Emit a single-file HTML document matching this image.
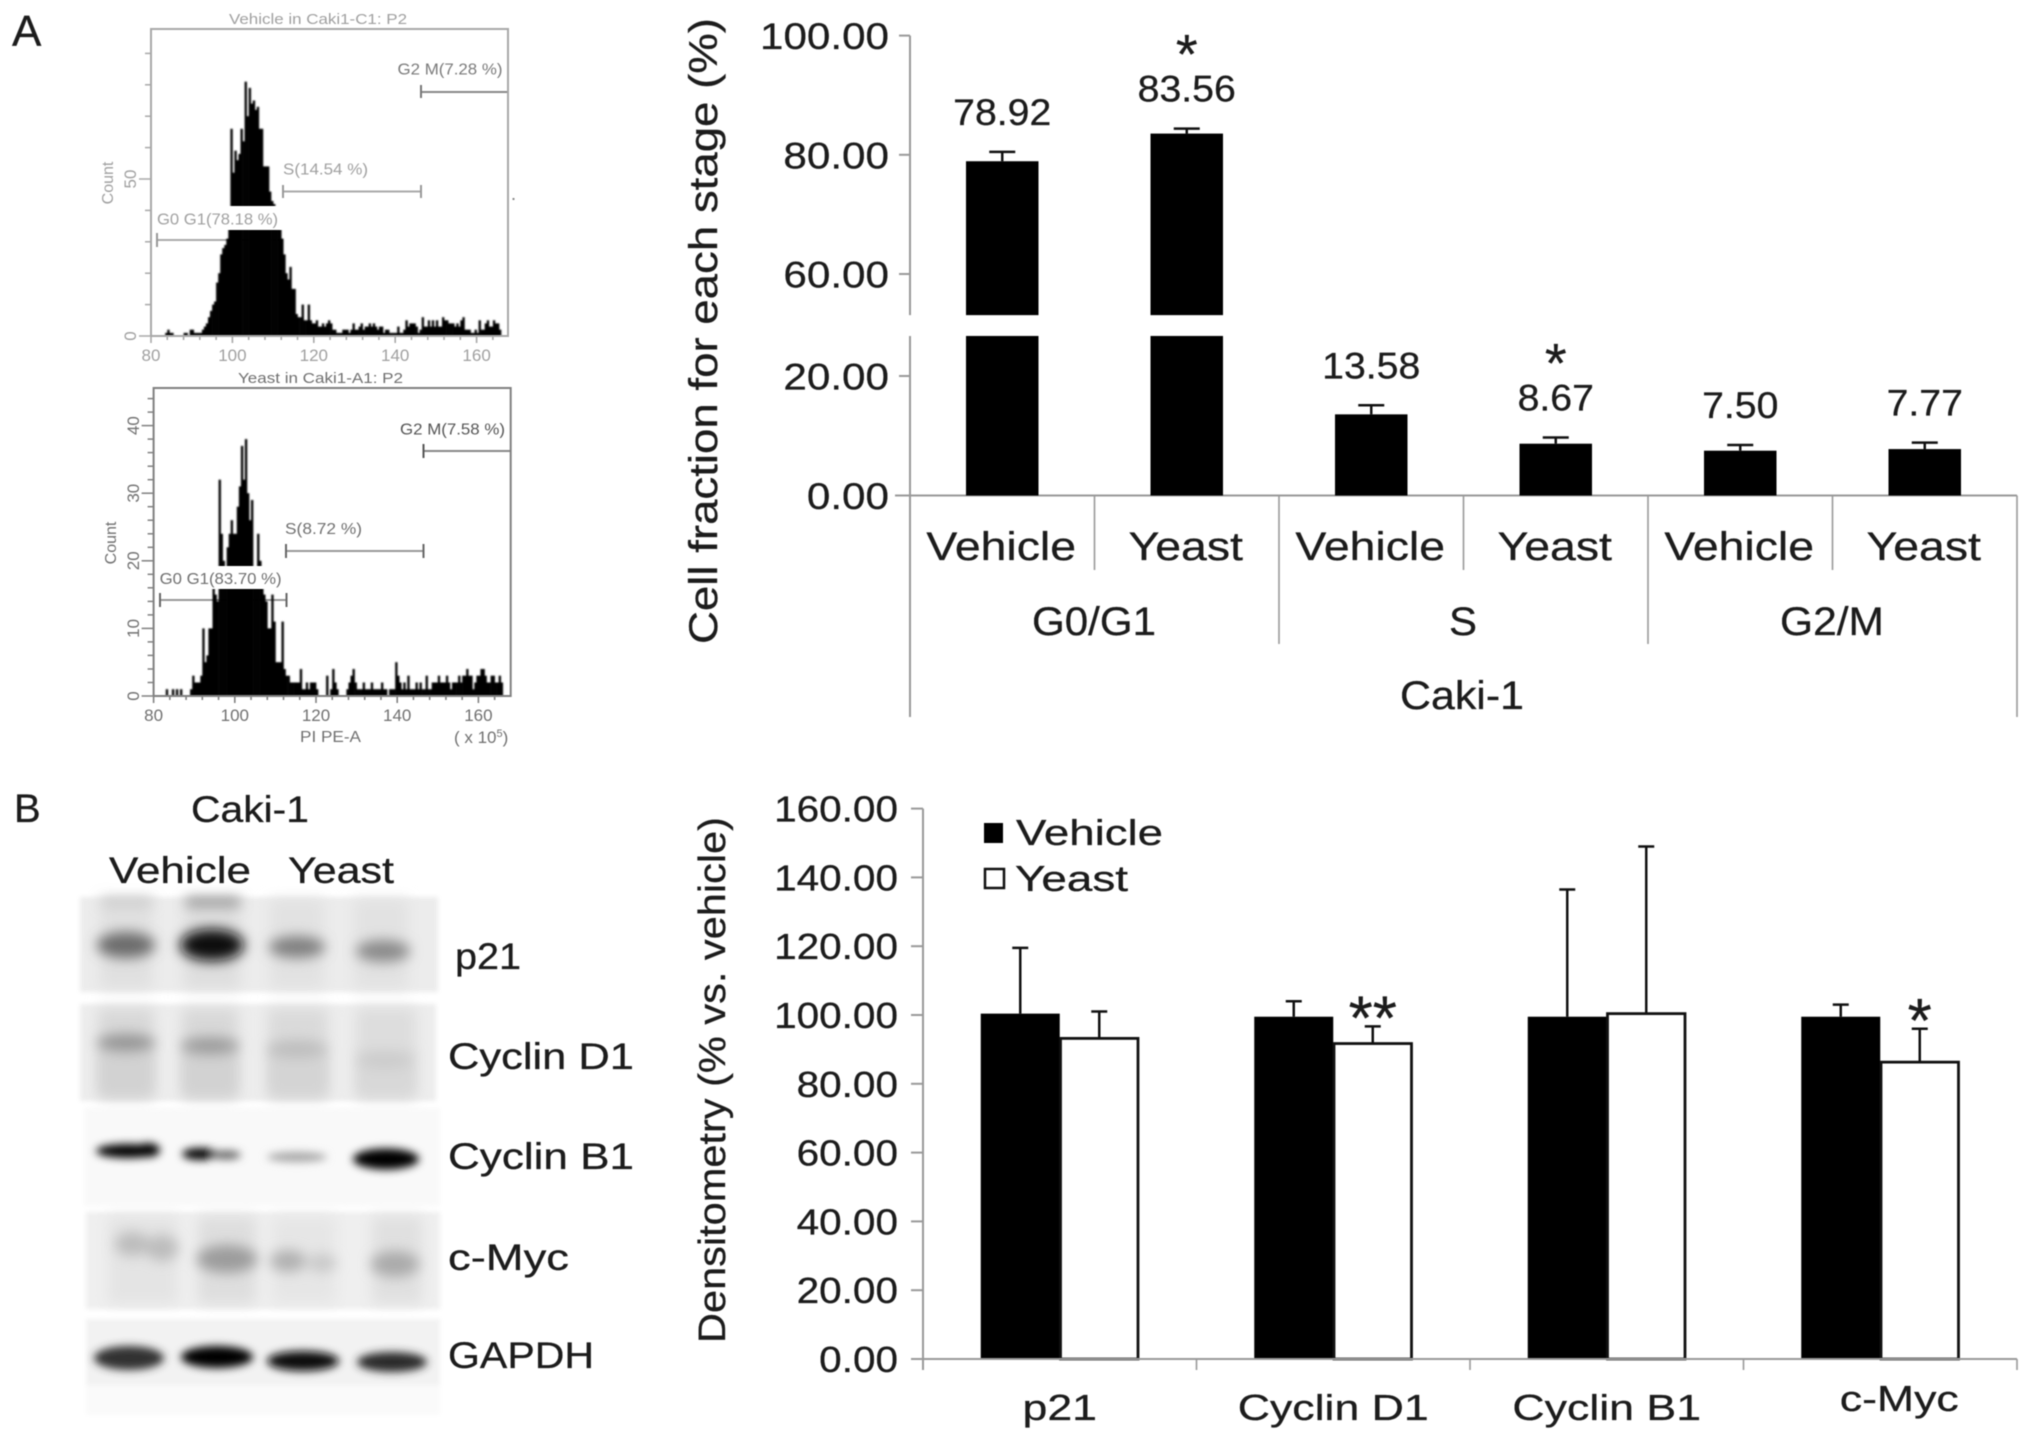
<!DOCTYPE html>
<html lang="en">
<head>
<meta charset="utf-8">
<title>Caki-1 cell cycle and densitometry figure</title>
<style>
html,body{margin:0;padding:0;background:#fff;}
body{width:2031px;height:1440px;overflow:hidden;}
svg{display:block;filter:blur(0.6px);}
text{font-family:"Liberation Sans",sans-serif;fill:#1c1c1c;stroke:#1c1c1c;stroke-width:.3px;}
.flow1{fill:#a0a0a0;stroke:none;}
.flow2{fill:#707070;stroke:none;}
.flowtxt{stroke:none;}
</style>
</head>
<body>
<svg id="fig" xmlns="http://www.w3.org/2000/svg" width="2031" height="1440" viewBox="0 0 2031 1440">
  <defs>
    <filter id="bandBlur" x="-40%" y="-80%" width="180%" height="260%"><feGaussianBlur stdDeviation="6.5"/></filter>
    <filter id="sharpBandBlur" x="-40%" y="-100%" width="180%" height="300%"><feGaussianBlur stdDeviation="4.2"/></filter>
    <filter id="bgBlur" x="-5%" y="-10%" width="110%" height="120%"><feGaussianBlur stdDeviation="2.5"/></filter>
    <filter id="laneBlur" x="-30%" y="-15%" width="160%" height="130%"><feGaussianBlur stdDeviation="7"/></filter>
    <filter id="histBlur" x="-5%" y="-5%" width="110%" height="110%"><feGaussianBlur stdDeviation="0.8"/></filter>
  </defs>
  <rect x="0" y="0" width="2031" height="1440" fill="#fff"/>

  <text x="12" y="46" font-size="44">A</text>
  <text x="14" y="822" font-size="40">B</text>

  <!-- Flow cytometry -->
  <g id="flowTop">
    <text class="flow1" x="229" y="24" font-size="15" textLength="178" lengthAdjust="spacingAndGlyphs">Vehicle in Caki1-C1: P2</text>
    <text class="flow1" transform="translate(113,183) rotate(-90)" text-anchor="middle" font-size="16">Count</text>
    <line x1="157" y1="240" x2="283" y2="240" stroke="#aaa" stroke-width="2"/>
    <line x1="157" y1="233" x2="157" y2="247" stroke="#999" stroke-width="2"/>
    <line x1="283" y1="191.5" x2="421" y2="191.5" stroke="#aaa" stroke-width="2"/>
    <line x1="283" y1="185" x2="283" y2="198" stroke="#999" stroke-width="2"/>
    <line x1="421" y1="185" x2="421" y2="198" stroke="#999" stroke-width="2"/>
    <line x1="421" y1="92" x2="508" y2="92" stroke="#888" stroke-width="2"/>
    <line x1="421" y1="85" x2="421" y2="98" stroke="#777" stroke-width="2"/>
    <text class="flowtxt" x="397.5" y="74.5" font-size="15.5" style="fill:#7a7a7a" textLength="105" lengthAdjust="spacingAndGlyphs">G2 M(7.28 %)</text>
    <text class="flow1" x="283" y="174.5" font-size="15.5" textLength="85" lengthAdjust="spacingAndGlyphs">S(14.54 %)</text>
    <rect x="512.5" y="198" width="2" height="2" fill="#888"/>
  </g>
  <g id="flowBottom">
    <text class="flow2" x="238" y="383" font-size="15" textLength="165" lengthAdjust="spacingAndGlyphs">Yeast in Caki1-A1: P2</text>
    <text class="flow2" transform="translate(116,543) rotate(-90)" text-anchor="middle" font-size="16">Count</text>
    <line x1="160" y1="600" x2="286.5" y2="600" stroke="#999" stroke-width="2"/>
    <line x1="160" y1="593" x2="160" y2="607" stroke="#666" stroke-width="2"/>
    <line x1="286.5" y1="593" x2="286.5" y2="607" stroke="#666" stroke-width="2"/>
    <line x1="286" y1="551" x2="423.5" y2="551" stroke="#999" stroke-width="2"/>
    <line x1="286" y1="544" x2="286" y2="558" stroke="#666" stroke-width="2"/>
    <line x1="423.5" y1="544" x2="423.5" y2="558" stroke="#666" stroke-width="2"/>
    <line x1="423.5" y1="451" x2="510" y2="451" stroke="#888" stroke-width="2"/>
    <line x1="423.5" y1="444" x2="423.5" y2="458" stroke="#555" stroke-width="2"/>
    <text class="flowtxt" x="400" y="434.5" font-size="15.5" style="fill:#555" textLength="105" lengthAdjust="spacingAndGlyphs">G2 M(7.58 %)</text>
    <text class="flow2" x="285" y="534" font-size="15.5" textLength="77" lengthAdjust="spacingAndGlyphs">S(8.72 %)</text>
    <text class="flow2" x="300" y="742" font-size="16" textLength="61" lengthAdjust="spacingAndGlyphs">PI PE-A</text>
    <text class="flow2" x="454" y="743" font-size="17">( x 10<tspan dy="-6" font-size="11">5</tspan><tspan dy="6">)</tspan></text>
  </g>

  <!-- Western blot -->
  <g>
    <g filter="url(#bgBlur)">
      <rect x="80" y="897" width="358" height="95" fill="#ececec"/>
      <rect x="80" y="1004" width="356" height="97" fill="#ededed"/>
      <rect x="84" y="1108" width="356" height="98" fill="#f9f9f9"/>
      <rect x="86" y="1212" width="354" height="97" fill="#efefef"/>
      <rect x="86" y="1319" width="354" height="68" fill="#f2f2f2"/>
      <rect x="86" y="1385" width="354" height="30" fill="#fafafa"/>
    </g>
    <g filter="url(#laneBlur)">
      <rect x="100" y="899" width="52" height="90" fill="#e0e0e0"/>
      <rect x="184" y="899" width="56" height="90" fill="#dedede"/>
      <rect x="270" y="899" width="54" height="90" fill="#e2e2e2"/>
      <rect x="354" y="899" width="54" height="90" fill="#e2e2e2"/>
      <rect x="98" y="1008" width="56" height="90" fill="#d8d8d8"/>
      <rect x="182" y="1008" width="56" height="90" fill="#d8d8d8"/>
      <rect x="268" y="1008" width="60" height="90" fill="#dadada"/>
      <rect x="356" y="1008" width="60" height="90" fill="#dddddd"/>
      <rect x="108" y="1216" width="70" height="88" fill="#e4e4e4"/>
      <rect x="198" y="1216" width="58" height="88" fill="#dedede"/>
      <rect x="272" y="1216" width="64" height="88" fill="#e6e6e6"/>
      <rect x="372" y="1216" width="50" height="88" fill="#e0e0e0"/>
    </g>
    <g filter="url(#bandBlur)">
      <rect x="186" y="898" width="54" height="8" fill="#888"/>
      <rect x="102" y="898" width="50" height="8" fill="#c8c8c8"/>
      <rect x="100" y="1050" width="52" height="45" fill="#d2d2d2"/>
      <rect x="184" y="1050" width="52" height="45" fill="#d2d2d2"/>
      <rect x="270" y="1045" width="56" height="50" fill="#d4d4d4"/>
      <rect x="358" y="1050" width="56" height="45" fill="#d8d8d8"/>
      <ellipse cx="126" cy="945" rx="29" ry="13" fill="#6c6c6c"/>
      <ellipse cx="212" cy="945" rx="32" ry="16" fill="#101010"/>
      <ellipse cx="297" cy="947" rx="28" ry="11" fill="#808080"/>
      <ellipse cx="383" cy="951" rx="27" ry="11" fill="#8a8a8a"/>
      <ellipse cx="126" cy="1043" rx="29" ry="9" fill="#949494"/>
      <ellipse cx="210" cy="1046" rx="29" ry="9" fill="#9c9c9c"/>
      <ellipse cx="297" cy="1049" rx="30" ry="9" fill="#bebebe"/>
      <ellipse cx="385" cy="1060" rx="28" ry="9" fill="#cccccc"/>
      <ellipse cx="132" cy="1244" rx="17" ry="12" fill="#bcbcbc"/>
      <ellipse cx="162" cy="1248" rx="16" ry="13" fill="#bcbcbc"/>
      <ellipse cx="227" cy="1259" rx="30" ry="14" fill="#9c9c9c"/>
      <ellipse cx="288" cy="1261" rx="18" ry="11" fill="#b0b0b0"/>
      <ellipse cx="322" cy="1263" rx="14" ry="9" fill="#c8c8c8"/>
      <ellipse cx="395" cy="1264" rx="24" ry="13" fill="#aaaaaa"/>
    </g>
    <g filter="url(#sharpBandBlur)">
      <ellipse cx="128" cy="1151" rx="32" ry="7" fill="#000"/>
      <ellipse cx="148" cy="1150" rx="12" ry="7" fill="#000"/>
      <ellipse cx="200" cy="1154" rx="18" ry="6" fill="#000"/>
      <ellipse cx="226" cy="1155" rx="15" ry="4.5" fill="#666"/>
      <ellipse cx="297" cy="1157" rx="30" ry="5" fill="#a6a6a6"/>
      <ellipse cx="386" cy="1159" rx="33" ry="10.5" fill="#000"/>
      <ellipse cx="129" cy="1358" rx="35" ry="12" fill="#303030"/>
      <ellipse cx="217" cy="1357" rx="36" ry="11" fill="#000"/>
      <ellipse cx="303" cy="1361" rx="36" ry="10" fill="#0a0a0a"/>
      <ellipse cx="392" cy="1362" rx="35" ry="10" fill="#2c2c2c"/>
    </g>
    <text x="191" y="822" font-size="37" textLength="118" lengthAdjust="spacingAndGlyphs">Caki-1</text>
    <text x="109" y="883" font-size="37" textLength="142" lengthAdjust="spacingAndGlyphs">Vehicle</text>
    <text x="288" y="883" font-size="37" textLength="106" lengthAdjust="spacingAndGlyphs">Yeast</text>
    <text x="455" y="969" font-size="37" textLength="66" lengthAdjust="spacingAndGlyphs">p21</text>
    <text x="448" y="1069" font-size="37" textLength="186" lengthAdjust="spacingAndGlyphs">Cyclin D1</text>
    <text x="448" y="1169" font-size="37" textLength="186" lengthAdjust="spacingAndGlyphs">Cyclin B1</text>
    <text x="448" y="1270" font-size="37" textLength="121" lengthAdjust="spacingAndGlyphs">c-Myc</text>
    <text x="448" y="1368" font-size="37" textLength="146" lengthAdjust="spacingAndGlyphs">GAPDH</text>
  </g>

  <!-- Chart A -->
  <g id="chartA">
    <text transform="translate(717,331) rotate(-90)" text-anchor="middle" font-size="40" textLength="626" lengthAdjust="spacingAndGlyphs">Cell fraction for each stage (%)</text>
    <text x="1032" y="635" font-size="40" textLength="124" lengthAdjust="spacingAndGlyphs">G0/G1</text>
    <text x="1449" y="635" font-size="40" textLength="28" lengthAdjust="spacingAndGlyphs">S</text>
    <text x="1780" y="635" font-size="40" textLength="104" lengthAdjust="spacingAndGlyphs">G2/M</text>
    <text x="1400" y="709" font-size="40" textLength="124" lengthAdjust="spacingAndGlyphs">Caki-1</text>
  </g>

  <!-- Chart B -->
  <g id="chartB">
    <text transform="translate(725,1080) rotate(-90)" text-anchor="middle" font-size="38" textLength="526" lengthAdjust="spacingAndGlyphs">Densitometry (% vs. vehicle)</text>
    <rect x="984" y="823" width="19" height="20" fill="#000"/>
    <text x="1016" y="845" font-size="36" textLength="147" lengthAdjust="spacingAndGlyphs">Vehicle</text>
    <rect x="985" y="869" width="19" height="19" fill="#fff" stroke="#111" stroke-width="2.5"/>
    <text x="1015" y="891" font-size="36" textLength="113" lengthAdjust="spacingAndGlyphs">Yeast</text>
  </g>
</svg>

<script>
// Flow histograms: counts per 0.5-unit bin starting at the first bin value
const histStart = 83;
const histStep = 0.5;
const vehicleCounts = [0,1,2,1,1,0,0,0,0,0,1,1,0,2,2,1,1,1,1,2,3,4,6,8,10,11,17,20,26,28,29,31,40,66,52,59,56,58,66,62,81,70,79,74,75,72,73,66,66,54,54,54,46,43,42,38,38,34,31,26,20,18,22,15,15,7,6,6,10,5,5,10,5,4,4,5,3,3,4,3,4,5,4,2,2,1,1,1,2,2,2,1,2,4,2,2,3,4,2,3,3,4,3,4,3,2,3,3,1,2,2,1,1,1,1,3,1,1,2,5,3,4,4,4,3,1,2,6,3,3,5,3,5,3,5,3,3,6,5,5,4,4,4,3,4,3,5,6,2,2,2,1,1,2,1,5,2,2,4,5,3,3,5,4,4,2];
const yeastCounts = [1,0,0,1,0,1,0,1,0,0,0,0,1,3,2,2,2,3,10,5,6,10,10,16,15,14,32,24,20,19,22,24,26,24,24,28,31,37,32,38,30,26,29,19,19,24,20,16,15,14,10,10,15,11,5,5,5,11,4,3,3,2,2,2,2,2,4,1,1,2,1,2,2,2,1,0,0,0,0,3,0,1,4,2,1,0,0,0,0,1,2,3,4,2,1,1,1,2,1,1,1,2,1,1,1,1,2,1,1,0,1,1,1,5,3,2,1,2,1,3,1,1,1,2,1,2,1,1,3,1,1,2,2,2,3,2,2,2,3,2,1,2,2,2,3,2,3,3,4,3,3,1,2,3,3,4,4,3,2,2,3,3,2,2,3,2];
const flowXTicks = [80,100,120,140,160];
const vehicleYTicks = [0,50];
const yeastYTicks = [0,10,20,30,40];

// Cell cycle chart
const stageGroups = ['G0/G1','S','G2/M'];
const treatments = ['Vehicle','Yeast','Vehicle','Yeast','Vehicle','Yeast'];
const fractionValues = [78.92,83.56,13.58,8.67,7.50,7.77];
const fractionErrorTops = [80.5,84.4,15.1,9.7,8.45,8.84];
const fractionSignificant = ['','*','','*','',''];
const fractionTicks = ['100.00','80.00','60.00','20.00','0.00'];
const fractionBreak = [26.7,53.1];

// Densitometry chart
const proteins = ['p21','Cyclin D1','Cyclin B1','c-Myc'];
const vehicleDensity = [100.4,99.5,99.5,99.5];
const yeastDensity = [93.2,91.7,100.4,86.3];
const vehicleDensityErrorTops = [119.5,104,136.5,103];
const yeastDensityErrorTops = [101,96.7,149,96];
const densitySignificant = ['','**','','*'];
const densityTicks = ['160.00','140.00','120.00','100.00','80.00','60.00','40.00','20.00','0.00'];

const NS = 'http://www.w3.org/2000/svg';
function mk(tag, attrs, parent) {
  const e = document.createElementNS(NS, tag);
  for (const k in attrs) e.setAttribute(k, attrs[k]);
  parent.appendChild(e);
  return e;
}
function txt(str, attrs, parent, widen) {
  const e = mk('text', attrs, parent);
  e.textContent = str;
  if (widen && widen !== 1) {
    e.setAttribute('textLength', (e.getComputedTextLength() * widen).toFixed(1));
    e.setAttribute('lengthAdjust', 'spacingAndGlyphs');
  }
  return e;
}

/* ---------- flow histogram ---------- */
function drawFlow(root, key, counts, yTicks, cfg) {
  const x = v => cfg.left + (v - 80) * cfg.xScale;
  const y = c => cfg.bottom - c * cfg.yScale;
  const hist = mk('g', {filter: 'url(#histBlur)'}, root);
  
  
  counts.forEach((c, i) => {
    if (!c) return;
    const v = histStart + i * histStep;
    const bar = mk('rect', {x: x(v).toFixed(1), y: y(c).toFixed(1), width: (histStep * cfg.xScale + 0.3).toFixed(2), height: (c * cfg.yScale).toFixed(1), fill: '#000'}, hist);
    
    
  });
  const band = mk('rect', {x: x(93), y: cfg.bandTop, width: x(115) - x(93), height: cfg.bandH, fill: '#fff'}, root);
  
  
  const g0 = txt(cfg.g0Label, {x: cfg.g0X, y: cfg.g0Y, 'font-size': 15.5, textLength: cfg.g0W, lengthAdjust: 'spacingAndGlyphs', class: 'flowtxt', style: 'fill:' + cfg.text}, root);
  
  

  const frame = mk('path', {d: 'M' + cfg.left + ' ' + cfg.bottom + 'V' + cfg.top + 'H' + cfg.right + 'V' + cfg.bottom + 'H' + cfg.left, fill: 'none', stroke: cfg.axis, 'stroke-width': 2}, root);
  
  

  for (let v = 80; v <= 164; v += 4) {
    const t = mk('line', {x1: x(v), x2: x(v), y1: cfg.bottom, y2: cfg.bottom + (v % 20 === 0 ? 7 : 4), stroke: cfg.axis, 'stroke-width': 1.6}, root);
    
    
  }
  flowXTicks.forEach(v => {
    const l = txt(String(v), {x: x(v), y: cfg.bottom + 25, 'font-size': 17, 'text-anchor': 'middle', class: 'flowtxt', style: 'fill:' + cfg.text}, root);
    
    
  });
  const maxC = (cfg.bottom - cfg.top) / cfg.yScale;
  for (let c = 0; c <= maxC; c += cfg.minor) {
    const major = c % cfg.major === 0;
    const t = mk('line', {x1: cfg.left - (major ? 12 : 6), x2: cfg.left, y1: y(c).toFixed(1), y2: y(c).toFixed(1), stroke: cfg.axis, 'stroke-width': 1.5}, root);
    
    
  }
  yTicks.forEach(c => {
    const l = txt(String(c), {transform: 'translate(' + cfg.yLabelX + ',' + y(c).toFixed(1) + ') rotate(-90)', 'font-size': 17, 'text-anchor': 'middle', class: 'flowtxt', style: 'fill:' + cfg.text}, root);
    
    
  });
}
drawFlow(document.getElementById('flowTop'), 'vehicle', vehicleCounts, vehicleYTicks, {
  left: 151, right: 508, top: 29, bottom: 336, xScale: 4.07, yScale: 3.14,
  bandTop: 206, bandH: 24, g0Label: 'G0 G1(78.18 %)', g0X: 157, g0Y: 224.5, g0W: 121,
  text: '#a0a0a0', axis: '#a8a8a8', minor: 10, major: 50, yLabelX: 136
});
drawFlow(document.getElementById('flowBottom'), 'yeast', yeastCounts, yeastYTicks, {
  left: 153.6, right: 510.7, top: 388, bottom: 696, xScale: 4.06, yScale: 6.76,
  bandTop: 566, bandH: 23, g0Label: 'G0 G1(83.70 %)', g0X: 159.6, g0Y: 584, g0W: 122,
  text: '#707070', axis: '#808080', minor: 2, major: 10, yLabelX: 139
});

/* ---------- cell cycle chart ---------- */
(function () {
  const root = document.getElementById('chartA');
  const axX = 910, axEnd = 2017, catW = (axEnd - axX) / treatments.length;
  const yLow = v => 495.5 - v * 5.975;
  const yHigh = v => 154.8 + (80 - v) * 5.96;
  const y = v => v >= fractionBreak[1] ? yHigh(v) : yLow(v);
  const cx = i => axX + catW * (i + 0.5);
  const barW = 72.5;

  const base = mk('line', {x1: axX - 15, x2: axEnd, y1: yLow(0), y2: yLow(0), stroke: '#999', 'stroke-width': 2}, root);
  
  
  const upper = mk('line', {x1: axX, x2: axX, y1: yHigh(100), y2: yHigh(fractionBreak[1]), stroke: '#999', 'stroke-width': 2}, root);
  
  
  const lower = mk('line', {x1: axX, x2: axX, y1: yLow(fractionBreak[0]), y2: 717, stroke: '#999', 'stroke-width': 2}, root);
  
  

  fractionTicks.forEach(t => {
    const v = parseFloat(t);
    const tick = mk('line', {x1: axX - 11, x2: axX, y1: y(v), y2: y(v), stroke: '#999', 'stroke-width': 2}, root);
    
    
    const l = txt(t, {x: 889, y: y(v) + 13.5, 'font-size': 37.5, 'text-anchor': 'end'}, root, 1.125);
    
    
  });

  treatments.forEach((name, i) => {
    const boundary = axX + catW * (i + 1);
    const isGroupEdge = (i + 1) % 2 === 0;
    const sep = mk('line', {x1: boundary, x2: boundary, y1: yLow(0), y2: (i === treatments.length - 1) ? 717 : (isGroupEdge ? 644 : 570), stroke: '#999', 'stroke-width': 1.6}, root);
    
    

    const label = txt(name, {x: cx(i) - 1, y: 560, 'font-size': 40, 'text-anchor': 'middle'}, root, 1.16);
    
    

    const v = fractionValues[i];
    const top = y(v);
    if (v >= fractionBreak[1]) {
      const lowerBar = mk('rect', {x: cx(i) - barW / 2, y: yLow(fractionBreak[0]), width: barW, height: yLow(0) - yLow(fractionBreak[0]), fill: '#000'}, root);
      
      
      const upperBar = mk('rect', {x: cx(i) - barW / 2, y: top, width: barW, height: yHigh(fractionBreak[1]) - top, fill: '#000'}, root);
      
      
    } else {
      const bar = mk('rect', {x: cx(i) - barW / 2, y: top, width: barW, height: yLow(0) - top, fill: '#000'}, root);
      
      
    }
    const cap = y(fractionErrorTops[i]);
    const stem = mk('line', {x1: cx(i), x2: cx(i), y1: top, y2: cap, stroke: '#111', 'stroke-width': 2.5}, root);
    
    
    const capLine = mk('line', {x1: cx(i) - 13, x2: cx(i) + 13, y1: cap, y2: cap, stroke: '#111', 'stroke-width': 2.5}, root);
    
    
    const value = txt(v.toFixed(2), {x: cx(i), y: cap - 38 + 11, 'font-size': 37, 'text-anchor': 'middle'}, root, 1.06);
    
    
    if (fractionSignificant[i]) {
      const star = txt(fractionSignificant[i], {x: cx(i), y: cap - 38 - 46 + 29, 'font-size': 56, 'text-anchor': 'middle'}, root);
      
      
    }
  });
})();

/* ---------- densitometry chart ---------- */
(function () {
  const root = document.getElementById('chartB');
  const axX = 923, axEnd = 2017, y0 = 1359, pxPerUnit = 3.44;
  const catW = (axEnd - axX) / proteins.length;
  const y = v => y0 - v * pxPerUnit;
  const barW = 79;
  const cx = i => axX + catW * (i + 0.5);

  const yAxis = mk('line', {x1: axX, x2: axX, y1: y(160), y2: y0 + 11, stroke: '#999', 'stroke-width': 2}, root);
  
  

  densityTicks.forEach(t => {
    const v = parseFloat(t);
    const tick = mk('line', {x1: axX - 12, x2: axX, y1: y(v), y2: y(v), stroke: '#999', 'stroke-width': 2}, root);
    
    
    const l = txt(t, {x: 898, y: y(v) + 13, 'font-size': 36, 'text-anchor': 'end'}, root, 1.125);
    
    
  });

  proteins.forEach((name, i) => {
    const boundary = axX + catW * (i + 1);
    const sep = mk('line', {x1: boundary, x2: boundary, y1: y0, y2: y0 + 11, stroke: '#999', 'stroke-width': 1.6}, root);
    
    

    const vTop = y(vehicleDensity[i]);
    const bar1 = mk('rect', {x: cx(i) - barW, y: vTop, width: barW, height: y0 - vTop, fill: '#000'}, root);
    
    
    const yTop = y(yeastDensity[i]);
    const bar2 = mk('rect', {x: cx(i) + 0.75, y: yTop, width: barW - 1.5, height: y0 - yTop, fill: '#fff', stroke: '#111', 'stroke-width': 2.8}, root);
    
    

    const vCap = y(vehicleDensityErrorTops[i]);
    const vx = cx(i) - barW / 2;
    const stem1 = mk('line', {x1: vx, x2: vx, y1: vTop, y2: vCap, stroke: '#111', 'stroke-width': 2.5}, root);
    
    
    const cap1 = mk('line', {x1: vx - 8, x2: vx + 8, y1: vCap, y2: vCap, stroke: '#111', 'stroke-width': 2.5}, root);
    
    

    const yCap = y(yeastDensityErrorTops[i]);
    const yx = cx(i) + barW / 2;
    const stem2 = mk('line', {x1: yx, x2: yx, y1: yTop, y2: yCap, stroke: '#111', 'stroke-width': 2.5}, root);
    
    
    const cap2 = mk('line', {x1: yx - 8, x2: yx + 8, y1: yCap, y2: yCap, stroke: '#111', 'stroke-width': 2.5}, root);
    
    

    if (densitySignificant[i]) {
      const star = txt(densitySignificant[i], {x: yx, y: yCap - 22 + 35, 'font-size': 62, 'text-anchor': 'middle'}, root);
      
      
    }
    const isLast = i === proteins.length - 1;
    const lx = cx(i) + (isLast ? 19 : 0);
    const label = txt(name, {x: lx, y: isLast ? 1411 : 1420, 'font-size': 36, 'text-anchor': 'middle'}, root, 1.24);
    
    
  });

  const base = mk('line', {x1: axX - 12, x2: axEnd, y1: y0, y2: y0, stroke: '#999', 'stroke-width': 2}, root);
  
  
})();
</script>
</body>
</html>
